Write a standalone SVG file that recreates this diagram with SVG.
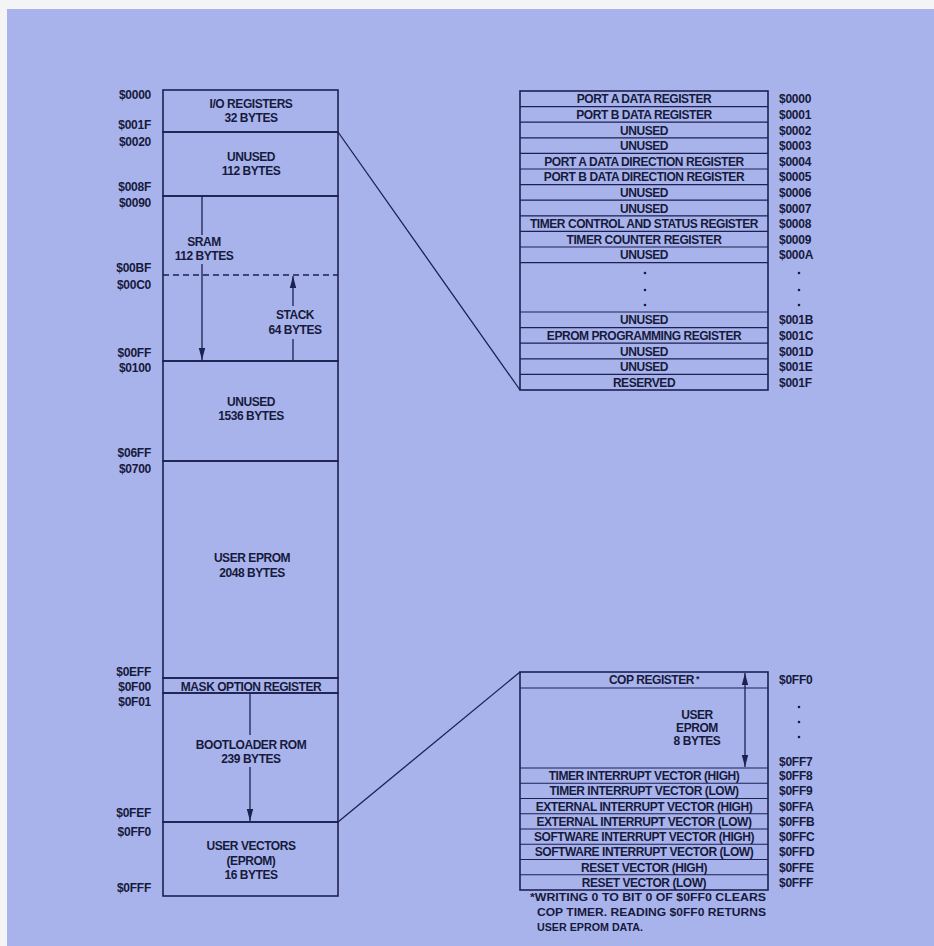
<svg xmlns="http://www.w3.org/2000/svg" width="934" height="946" viewBox="0 0 934 946">
<style>
.t{font-family:"Liberation Sans",Arial,sans-serif;font-weight:bold;font-size:12px;letter-spacing:-0.45px;fill:#161a3c;text-anchor:middle}
.a{font-family:"Liberation Sans",Arial,sans-serif;font-weight:bold;font-size:12px;letter-spacing:-0.25px;fill:#161a3c}
.ar{text-anchor:end}
.fn{font-family:"Liberation Sans",Arial,sans-serif;font-weight:bold;font-size:11px;fill:#161a3c}
.box{fill:none;stroke:#1c2150;stroke-width:1.6}
.row{fill:none;stroke:#1c2150;stroke-width:1.2}
.ln{fill:none;stroke:#1c2150;stroke-width:1.3}
.dot{fill:#161a3c}
</style>
<defs>
<marker id="ah" viewBox="0 0 12 8" refX="12" refY="4" markerWidth="12" markerHeight="8" markerUnits="userSpaceOnUse" orient="auto-start-reverse">
<path d="M0,0.8 L12,4 L0,7.2 Z" fill="#1c2150"/>
</marker>
</defs>
<rect x="0" y="0" width="934" height="946" fill="#f4f4f7"/>
<rect x="7" y="9" width="927" height="937" fill="#a9b3eb"/>

<!-- Main memory map -->
<g id="seg-io">
<rect class="box" x="163" y="90" width="175" height="42"/>
<text class="t" x="251" y="108">I/O REGISTERS</text>
<text class="t" x="251" y="122">32 BYTES</text>
</g>
<g id="seg-unused112">
<rect class="box" x="163" y="132" width="175" height="64"/>
<text class="t" x="251" y="161">UNUSED</text>
<text class="t" x="251" y="175">112 BYTES</text>
</g>
<g id="seg-sram">
<rect class="box" x="163" y="196" width="175" height="165"/>
<line class="ln" x1="163" y1="275" x2="338" y2="275" stroke-dasharray="6,4"/>
<text class="t" x="204" y="245.5">SRAM</text>
<text class="t" x="204" y="259.5">112 BYTES</text>
<text class="t" x="295" y="319">STACK</text>
<text class="t" x="295" y="333.5">64 BYTES</text>
</g>
<g id="seg-unused1536">
<rect class="box" x="163" y="361" width="175" height="100"/>
<text class="t" x="251" y="406">UNUSED</text>
<text class="t" x="251" y="420">1536 BYTES</text>
</g>
<g id="seg-eprom">
<rect class="box" x="163" y="461" width="175" height="217"/>
<text class="t" x="252" y="562">USER EPROM</text>
<text class="t" x="252" y="577">2048 BYTES</text>
</g>
<g id="seg-mask">
<rect class="box" x="163" y="678" width="175" height="15"/>
<text class="t" x="251" y="690.5">MASK OPTION REGISTER</text>
</g>
<g id="seg-boot">
<rect class="box" x="163" y="693" width="175" height="129"/>
<text class="t" x="251" y="749">BOOTLOADER ROM</text>
<text class="t" x="251" y="762.5">239 BYTES</text>
</g>
<g id="seg-vectors">
<rect class="box" x="163" y="822" width="175" height="74"/>
<text class="t" x="251" y="850">USER VECTORS</text>
<text class="t" x="251" y="864.5">(EPROM)</text>
<text class="t" x="251" y="878.5">16 BYTES</text>
</g>

<!-- Left address labels -->
<g id="addr-left">
<text class="a ar" x="151" y="99">$0000</text>
<text class="a ar" x="151" y="129">$001F</text>
<text class="a ar" x="151" y="146">$0020</text>
<text class="a ar" x="151" y="191">$008F</text>
<text class="a ar" x="151" y="207">$0090</text>
<text class="a ar" x="151" y="272">$00BF</text>
<text class="a ar" x="151" y="289">$00C0</text>
<text class="a ar" x="151" y="357">$00FF</text>
<text class="a ar" x="151" y="372">$0100</text>
<text class="a ar" x="151" y="457">$06FF</text>
<text class="a ar" x="151" y="473">$0700</text>
<text class="a ar" x="151" y="676">$0EFF</text>
<text class="a ar" x="151" y="691">$0F00</text>
<text class="a ar" x="151" y="706">$0F01</text>
<text class="a ar" x="151" y="817">$0FEF</text>
<text class="a ar" x="151" y="836">$0FF0</text>
<text class="a ar" x="151" y="892">$0FFF</text>
</g>

<!-- I/O register detail table -->
<g id="io-table">
<rect class="box" x="520" y="91" width="248" height="299"/>
<path class="row" d="M520,106.6H768M520,122.2H768M520,137.8H768M520,153.4H768M520,169H768M520,184.6H768M520,200.2H768M520,215.8H768M520,231.4H768M520,247H768M520,262.6H768M520,312H768M520,327.6H768M520,343.2H768M520,358.8H768M520,374.4H768"/>
<text class="t" x="644" y="103.3">PORT A DATA REGISTER</text>
<text class="t" x="644" y="118.9">PORT B DATA REGISTER</text>
<text class="t" x="644" y="134.5">UNUSED</text>
<text class="t" x="644" y="150.1">UNUSED</text>
<text class="t" x="644" y="165.7">PORT A DATA DIRECTION REGISTER</text>
<text class="t" x="644" y="181.3">PORT B DATA DIRECTION REGISTER</text>
<text class="t" x="644" y="196.9">UNUSED</text>
<text class="t" x="644" y="212.5">UNUSED</text>
<text class="t" x="644" y="228.1">TIMER CONTROL AND STATUS REGISTER</text>
<text class="t" x="644" y="243.7">TIMER COUNTER REGISTER</text>
<text class="t" x="644" y="259.3">UNUSED</text>
<circle class="dot" cx="645" cy="273" r="1.3"/>
<circle class="dot" cx="645" cy="290" r="1.3"/>
<circle class="dot" cx="645" cy="305" r="1.3"/>
<text class="t" x="644" y="324.3">UNUSED</text>
<text class="t" x="644" y="339.9">EPROM PROGRAMMING REGISTER</text>
<text class="t" x="644" y="355.5">UNUSED</text>
<text class="t" x="644" y="371.1">UNUSED</text>
<text class="t" x="644" y="386.7">RESERVED</text>
</g>
<g id="io-addr">
<text class="a" x="779" y="103.3">$0000</text>
<text class="a" x="779" y="118.9">$0001</text>
<text class="a" x="779" y="134.5">$0002</text>
<text class="a" x="779" y="150.1">$0003</text>
<text class="a" x="779" y="165.7">$0004</text>
<text class="a" x="779" y="181.3">$0005</text>
<text class="a" x="779" y="196.9">$0006</text>
<text class="a" x="779" y="212.5">$0007</text>
<text class="a" x="779" y="228.1">$0008</text>
<text class="a" x="779" y="243.7">$0009</text>
<text class="a" x="779" y="259.3">$000A</text>
<circle class="dot" cx="799" cy="273" r="1.3"/>
<circle class="dot" cx="799" cy="290" r="1.3"/>
<circle class="dot" cx="799" cy="305" r="1.3"/>
<text class="a" x="779" y="324.3">$001B</text>
<text class="a" x="779" y="339.9">$001C</text>
<text class="a" x="779" y="355.5">$001D</text>
<text class="a" x="779" y="371.1">$001E</text>
<text class="a" x="779" y="386.7">$001F</text>
</g>

<!-- Vector detail table -->
<g id="vec-table">
<rect class="box" x="520" y="672" width="248" height="218"/>
<path class="row" d="M520,688H768M520,768H768M520,783.25H768M520,798.5H768M520,813.75H768M520,829H768M520,844.25H768M520,859.5H768M520,874.75H768"/>
<text class="t" x="654" y="684.3">COP REGISTER<tspan font-size="9" dy="-2"> *</tspan></text>
<text class="t" x="697" y="719">USER</text>
<text class="t" x="697" y="732">EPROM</text>
<text class="t" x="697" y="745">8 BYTES</text>
<text class="t" x="644" y="780">TIMER INTERRUPT VECTOR (HIGH)</text>
<text class="t" x="644" y="795.3">TIMER INTERRUPT VECTOR (LOW)</text>
<text class="t" x="644" y="810.5">EXTERNAL INTERRUPT VECTOR (HIGH)</text>
<text class="t" x="644" y="825.8">EXTERNAL INTERRUPT VECTOR (LOW)</text>
<text class="t" x="644" y="841">SOFTWARE INTERRUPT VECTOR (HIGH)</text>
<text class="t" x="644" y="856.3">SOFTWARE INTERRUPT VECTOR (LOW)</text>
<text class="t" x="644" y="871.5">RESET VECTOR (HIGH)</text>
<text class="t" x="644" y="886.8">RESET VECTOR (LOW)</text>
</g>
<g id="vec-addr">
<text class="a" x="779" y="684.3">$0FF0</text>
<circle class="dot" cx="799" cy="707" r="1.3"/>
<circle class="dot" cx="799" cy="722" r="1.3"/>
<circle class="dot" cx="799" cy="737" r="1.3"/>
<text class="a" x="779" y="766">$0FF7</text>
<text class="a" x="779" y="780">$0FF8</text>
<text class="a" x="779" y="795.3">$0FF9</text>
<text class="a" x="779" y="810.5">$0FFA</text>
<text class="a" x="779" y="825.8">$0FFB</text>
<text class="a" x="779" y="841">$0FFC</text>
<text class="a" x="779" y="856.3">$0FFD</text>
<text class="a" x="779" y="871.5">$0FFE</text>
<text class="a" x="779" y="886.8">$0FFF</text>
</g>

<g id="footnote">
<text class="fn" x="530" y="901" textLength="236" lengthAdjust="spacingAndGlyphs">*WRITING 0 TO BIT 0 OF $0FF0 CLEARS</text>
<text class="fn" x="537" y="916" textLength="229" lengthAdjust="spacingAndGlyphs">COP TIMER.  READING $0FF0 RETURNS</text>
<text class="fn" x="537" y="931" textLength="106" lengthAdjust="spacingAndGlyphs">USER EPROM DATA.</text>
</g>

<!-- Connectors -->
<g id="connectors">
<line class="ln" x1="338" y1="132" x2="520" y2="390"/>
<line class="ln" x1="338" y1="822" x2="520" y2="672"/>
<line class="ln" x1="202" y1="196" x2="202" y2="235"/>
<line class="ln" x1="202" y1="264" x2="202" y2="360" marker-end="url(#ah)"/>
<line class="ln" x1="293" y1="361" x2="293" y2="339"/>
<line class="ln" x1="293" y1="306" x2="293" y2="276" marker-end="url(#ah)"/>
<line class="ln" x1="250" y1="693" x2="250" y2="735"/>
<line class="ln" x1="250" y1="767" x2="250" y2="821" marker-end="url(#ah)"/>
<line class="ln" x1="745" y1="673" x2="745" y2="767" marker-start="url(#ah)" marker-end="url(#ah)"/>
</g>
</svg>
